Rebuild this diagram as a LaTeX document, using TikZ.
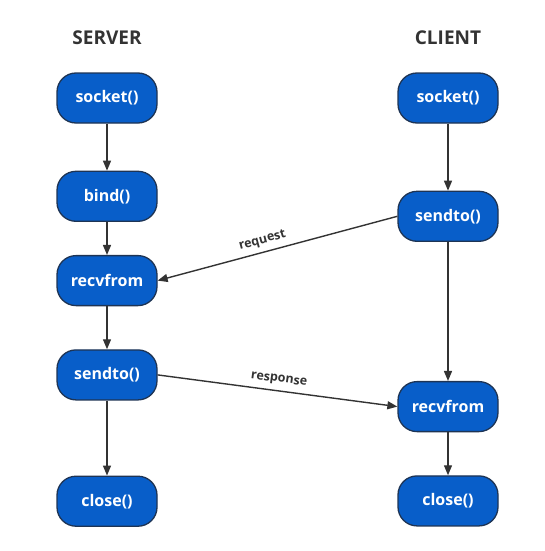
\documentclass[tikz,border=0pt]{standalone}
\usepackage{fontspec}
\setmainfont{Open Sans}
\usetikzlibrary{arrows.meta}
\usetikzlibrary{positioning}

\definecolor{callblue}{RGB}{8,94,201}
\definecolor{callrim}{RGB}{30,52,84}
\definecolor{inkgray}{RGB}{51,51,51}

\begin{document}
\begin{tikzpicture}[x=1pt, y=-1pt, node distance=40pt, font=\fontsize{16}{18}\selectfont\bfseries]
  \tikzstyle{call}=[rectangle, rounded corners=19pt, fill=callblue, draw=callrim, line width=1.3pt, text=white, minimum width=100pt, minimum height=50pt, text centered, inner sep=0pt]
  \tikzstyle{head}=[text=inkgray, font=\fontsize{19}{21}\selectfont\bfseries]
  \tikzstyle{flow}=[-{Triangle[length=10pt, width=8pt]}, line width=1.4pt, draw=inkgray]
  \tikzstyle{msg}=[text=inkgray, font=\fontsize{12.5}{14}\selectfont\bfseries, inner sep=1pt]
  \useasboundingbox (0,0) rectangle (544,551);

  % server side
  \node (server) [head] at (107,38) {SERVER};
  \node (ssocket) [call] at (107,98) {socket()};
  \node (sbind) [call, below=47pt of ssocket] {bind()};
  \node (srecv) [call, below=33pt of sbind] {recvfrom};
  \node (ssend) [call, below=43pt of srecv] {sendto()};
  \node (sclose) [call, below=75pt of ssend] {close()};

  % client side
  \node (client) [head] at (448,38) {CLIENT};
  \node (csocket) [call] at (448,98) {socket()};
  \node (csend) [call, below=67pt of csocket] {sendto()};
  \node (crecv) [call, below=139pt of csend] {recvfrom};
  \node (cclose) [call, below=43pt of crecv] {close()};

  \draw[flow] (ssocket) -- (sbind);
  \draw[flow] (sbind) -- (srecv);
  \draw[flow] (srecv) -- (ssend);
  \draw[flow] (ssend) -- (sclose);

  \draw[flow] (csocket) -- (csend);
  \draw[flow] (csend) -- (crecv);
  \draw[flow] (crecv) -- (cclose);

  \draw[flow] (csend.west) -- node[msg, sloped, above=4pt, pos=0.55] {request} (srecv.east);
  \draw[flow] (ssend.east) -- node[msg, sloped, above=4pt, pos=0.5] {response} (crecv.west);
\end{tikzpicture}
\end{document}
